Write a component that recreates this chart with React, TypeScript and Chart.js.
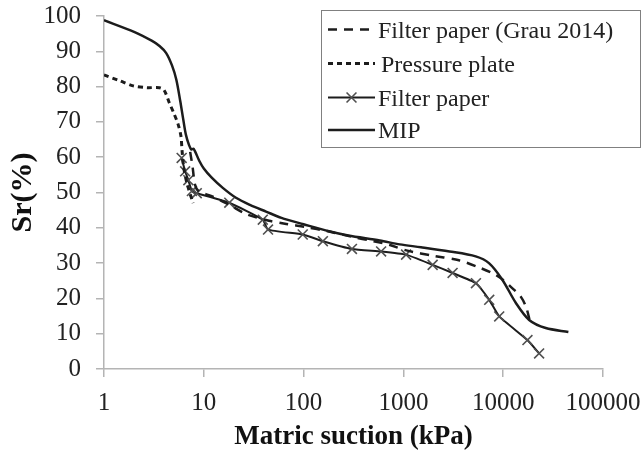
import React, { useEffect, useRef } from "react";
import { Chart, registerables } from "chart.js";

Chart.register(...registerables);

const FONT = "'Liberation Serif', 'Times New Roman', serif";

// tick values
const xTickValues = [1, 10, 100, 1000, 10000, 100000];
const yTickStep = 10;

// Filter paper (Grau 2014) — dashed
const grauX = [7.3, 7.7, 8.2, 9, 12, 18, 27, 45, 67, 105, 175, 300, 500, 720, 1070, 2070, 3600, 5700, 8000, 10000, 12900, 15000, 17000, 18500];
const grauY = [61.5, 57.5, 52, 50.2, 49, 46.5, 43.8, 42, 41.1, 40.2, 39, 37.5, 36.2, 35.2, 33.6, 32, 30.8, 28.8, 27, 25.2, 22.4, 20.5, 17.5, 13.5];

// Pressure plate — dotted
const plateX = [1, 1.45, 1.96, 2.7, 3.6, 4.0, 4.5, 5.0, 5.5, 5.9, 6.05, 6.3, 6.8, 7.8];
const plateY = [83.3, 81.6, 80.2, 79.7, 79.7, 79, 75.5, 72.5, 69.5, 66, 62, 57, 52.5, 47];

// Filter paper — solid with crosses
const fpX = [6.0, 6.5, 7.0, 7.6, 8.5, 18, 39, 44, 98, 156, 305, 598, 1064, 1964, 3112, 5333, 7244, 9120, 17500, 22900];
const fpY = [59.8, 56, 53.5, 50.4, 49.8, 47.1, 42.3, 39.5, 38.1, 36.2, 34, 33.3, 32.4, 29.5, 27.2, 24.3, 19.6, 14.9, 8.2, 4.4];

// MIP — solid
const mipX = [1, 2, 3, 3.6, 4.2, 4.8, 5.3, 5.8, 6.2, 6.6, 7.1, 7.5, 7.9, 9.0, 10, 12, 15.5, 21, 29, 42, 60, 100, 180, 280, 580, 920, 1500, 2900, 5300, 7200, 9800, 13400, 18200, 26700, 45000];
const mipY = [98.8, 95.5, 93, 91.5, 89.5, 86, 82, 76, 71, 66.5, 63.5, 62.2, 62.4, 59, 56.8, 54.2, 51.3, 48.5, 46.5, 44.6, 42.8, 41, 39, 37.8, 36.4, 35.3, 34.5, 33.3, 31.9, 30, 25.3, 18.7, 13.9, 11.6, 10.5];

const seriesLabels = ["Filter paper (Grau 2014)", "Pressure plate", "Filter paper", "MIP"];

const toPts = (xs: number[], ys: number[]) => xs.map((x, i) => ({ x, y: ys[i] }));

const LINE = "#1c1c1c";
const AXIS = "#b4b4b4";
const TEXT = "#222222";

const legendPlugin = {
  id: "boxLegend",
  afterDraw(chart: any) {
    const ctx = chart.ctx as CanvasRenderingContext2D;
    ctx.save();
    ctx.strokeStyle = "#808080";
    ctx.lineWidth = 1;
    ctx.setLineDash([]);
    ctx.strokeRect(321.5, 10.5, 319, 137);
    const rows = [29.5, 63.5, 97.5, 130];
    const x0 = 328, x1 = 375;
    chart.data.datasets.forEach((ds: any, i: number) => {
      const y = rows[i];
      ctx.save();
      ctx.strokeStyle = ds.borderColor;
      ctx.lineWidth = ds.borderWidth;
      ctx.setLineDash(ds.borderDash || []);
      ctx.beginPath();
      ctx.moveTo(x0, y);
      ctx.lineTo(x1, y);
      ctx.stroke();
      ctx.setLineDash([]);
      if (ds.pointRadius > 0) {
        const r = ds.pointRadius * 0.707;
        const cx = (x0 + x1) / 2;
        ctx.strokeStyle = ds.pointBorderColor;
        ctx.lineWidth = ds.pointBorderWidth;
        ctx.beginPath();
        ctx.moveTo(cx - r, y - r);
        ctx.lineTo(cx + r, y + r);
        ctx.moveTo(cx - r, y + r);
        ctx.lineTo(cx + r, y - r);
        ctx.stroke();
      }
      ctx.restore();
      ctx.fillStyle = TEXT;
      ctx.font = `24px ${FONT}`;
      ctx.textAlign = "left";
      ctx.textBaseline = "alphabetic";
      ctx.fillText(ds.label, i === 1 ? 381 : 378, y + 8);
    });
    ctx.restore();
  },
};

export default function App() {
  const ref = useRef<HTMLCanvasElement | null>(null);

  useEffect(() => {
    if (!ref.current) return;
    const chart = new Chart(ref.current, {
      type: "scatter",
      data: {
        datasets: [
          {
            label: seriesLabels[0],
            data: toPts(grauX, grauY),
            showLine: true,
            borderColor: LINE,
            borderWidth: 2.5,
            borderDash: [9, 7],
            pointRadius: 0,
            tension: 0.3,
            fill: false,
          },
          {
            label: seriesLabels[1],
            data: toPts(plateX, plateY),
            showLine: true,
            borderColor: LINE,
            borderWidth: 3,
            borderDash: [5, 4],
            pointRadius: 0,
            tension: 0.3,
            fill: false,
          },
          {
            label: seriesLabels[2],
            data: toPts(fpX, fpY),
            showLine: true,
            borderColor: LINE,
            borderWidth: 2,
            pointStyle: "crossRot",
            pointRadius: 7,
            pointBorderColor: "#505050",
            pointBorderWidth: 1.6,
            pointBackgroundColor: "#505050",
            tension: 0.15,
            fill: false,
          },
          {
            label: seriesLabels[3],
            data: toPts(mipX, mipY),
            showLine: true,
            borderColor: LINE,
            borderWidth: 2.5,
            pointRadius: 0,
            tension: 0.3,
            fill: false,
          },
        ] as any,
      },
      options: {
        animation: false,
        responsive: false,
        maintainAspectRatio: false,
        layout: { padding: { left: 0, right: 41, top: 16, bottom: 0 } },
        plugins: {
          legend: { display: false },
          tooltip: { enabled: false },
        },
        scales: {
          x: {
            type: "logarithmic",
            position: "bottom",
            min: 1,
            max: 100000,
            afterBuildTicks: (s: any) => {
              s.ticks = xTickValues.map((v) => ({ value: v }));
            },
            afterFit: (s: any) => {
              s.height = 85;
              s.paddingLeft = 0;
              s.paddingRight = 0;
            },
            grid: {
              display: true,
              drawOnChartArea: false,
              drawTicks: true,
              tickLength: 8,
              color: AXIS,
              lineWidth: 1.5,
            },
            border: { display: true, color: AXIS, width: 1.5 },
            ticks: {
              autoSkip: false,
              maxRotation: 0,
              padding: 11,
              color: TEXT,
              font: { family: FONT, size: 25 },
              callback: (v: any) => String(v),
            },
            title: {
              display: true,
              text: "Matric suction (kPa)",
              color: "#111111",
              font: { family: FONT, size: 27, weight: "bold" },
              padding: { top: 0, bottom: 1 },
            },
          },
          y: {
            type: "linear",
            min: 0,
            max: 100,
            afterFit: (s: any) => {
              s.width = 104;
              s.paddingTop = 0;
              s.paddingBottom = 0;
            },
            grid: {
              display: true,
              drawOnChartArea: false,
              drawTicks: true,
              tickLength: 8,
              color: AXIS,
              lineWidth: 1.5,
            },
            border: { display: true, color: AXIS, width: 1.5 },
            ticks: {
              stepSize: yTickStep,
              padding: 15,
              color: TEXT,
              font: { family: FONT, size: 25 },
            },
            title: {
              display: true,
              text: "Sr(%)",
              color: "#111111",
              font: { family: FONT, size: 30, weight: "bold" },
              padding: { top: 5, bottom: 0 },
            },
          },
        },
      } as any,
      plugins: [legendPlugin],
    });
    return () => chart.destroy();
  }, []);

  return (
    <div style={{ position: "fixed", left: 0, top: 0, width: 644, height: 454, background: "#ffffff" }}>
      <canvas ref={ref} width={644} height={454} />
    </div>
  );
}
